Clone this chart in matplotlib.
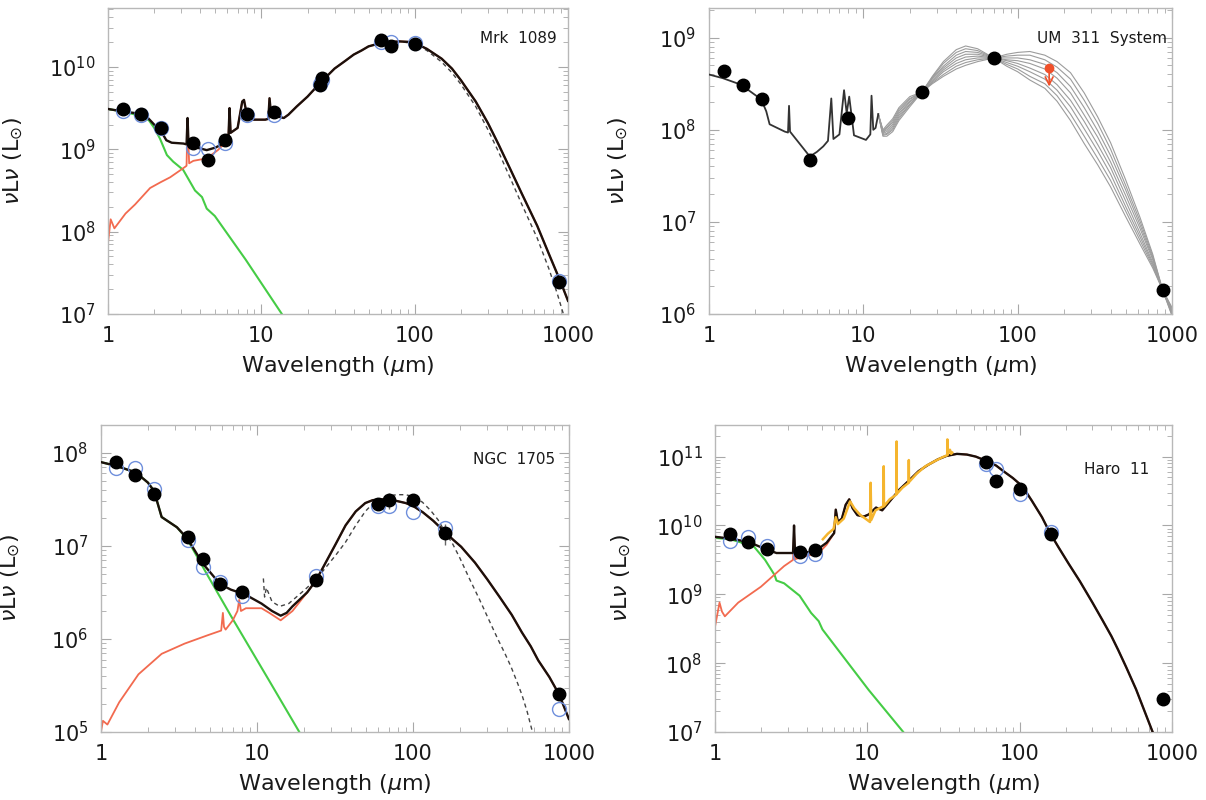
import numpy as np
import matplotlib.pyplot as plt
from matplotlib.ticker import LogLocator, NullFormatter

plt.rcParams['font.family'] = ['DejaVu Sans']
plt.rcParams['mathtext.fontset'] = 'dejavusans'

# ---------- DATA (model curves are log10 of nuLnu in Lsun) ----------

# Mrk 1089
mrk_phot_wl = [1.25, 1.65, 2.2, 3.6, 4.5, 5.8, 8.0, 12, 24, 25, 60, 70, 100, 870]
mrk_phot = [3.1e9, 2.7e9, 1.8e9, 1.2e9, 7.5e8, 1.3e9, 2.7e9, 2.8e9, 6.0e9, 7.4e9, 2.1e10, 1.8e10, 1.9e10, 2.45e7]
mrk_mod_phot = [2.9e9, 2.6e9, 1.8e9, 1.05e9, 1.0e9, 1.2e9, 2.6e9, 2.6e9, 6.2e9, 7.0e9, 2.0e10, 2.0e10, 1.95e10, 2.5e7]

mrk_tot_wl = [1.0, 1.25, 1.5, 1.76, 2.0, 2.2, 2.4, 2.6, 3.1, 3.25, 3.3, 3.35, 3.6, 4.0, 4.4, 5.0, 5.4,
              6.1, 6.2, 6.3, 7.0, 7.5, 7.7, 8.0, 8.8, 9.5, 10.6, 11.1, 11.3, 11.6, 12.7, 14.0, 15.0,
              17.0, 20.0, 24.0, 30.0, 35.0, 40.0, 45.0, 50.0, 60.0, 70.0, 80.0, 90.0, 100.0, 120.0,
              150.0, 175.0, 200.0, 250.0, 300.0, 350.0, 420.0, 500.0, 630.0, 750.0, 890.0, 1000.0]
mrk_tot_log = [9.49, 9.46, 9.44, 9.41, 9.30, 9.23, 9.11, 9.08, 9.07, 9.06, 9.38, 9.05, 9.03, 9.01, 8.99,
               9.02, 9.05, 9.15, 9.50, 9.20, 9.26, 9.58, 9.60, 9.44, 9.36, 9.36, 9.36, 9.37, 9.62, 9.40,
               9.40, 9.38, 9.42, 9.52, 9.64, 9.80, 9.98, 10.07, 10.15, 10.20, 10.25, 10.29, 10.305,
               10.31, 10.305, 10.29, 10.22, 10.10, 9.98, 9.84, 9.58, 9.32, 9.07, 8.76, 8.46, 8.07,
               7.73, 7.40, 7.16]
mrk_dust_wl = [1.0, 1.04, 1.1, 1.3, 1.5, 1.88, 2.2, 2.54, 3.09, 3.25, 3.3, 3.38, 3.6, 4.4, 5.2, 5.6, 6.0]
mrk_dust_log = [7.87, 8.15, 8.04, 8.22, 8.33, 8.53, 8.60, 8.66, 8.77, 8.80, 9.36, 8.83, 8.86, 8.89,
                8.99, 9.05, 9.12]
mrk_star_wl = [1.0, 1.3, 1.69, 1.85, 2.0, 2.18, 2.42, 2.66, 3.09, 3.69, 4.1, 4.4, 4.97, 7.9, 13.6, 14.5]
mrk_star_log = [9.49, 9.45, 9.40, 9.35, 9.26, 9.13, 8.93, 8.85, 8.75, 8.50, 8.42, 8.28, 8.19, 7.66,
                7.0, 6.9]
mrk_alt_wl = [60, 80, 100, 120, 150, 175, 200, 250, 300, 350, 420, 500, 630, 750, 850, 950]
mrk_alt_log = [10.29, 10.31, 10.28, 10.20, 10.06, 9.93, 9.79, 9.52, 9.24, 8.98, 8.65, 8.33, 7.92,
               7.55, 7.25, 6.95]

# UM 311 System
um_phot_wl = [1.25, 1.65, 2.2, 4.5, 8.0, 24, 70, 870]
um_phot = [4.3e8, 3.1e8, 2.17e8, 4.7e7, 1.34e8, 2.57e8, 6.0e8, 1.8e6]
um_lim_wl = 160
um_lim = 4.7e8
um_lim_tip = 2.75e8

um_line_wl = [1.0, 1.23, 1.61, 2.18, 2.35, 2.47, 3.1, 3.25, 3.3, 3.35, 4.5, 5.0, 5.5, 5.9, 6.2, 6.4,
              7.0, 7.5, 7.8, 8.1, 8.7, 10.4, 11.1, 11.3, 11.6, 12.0, 12.5]
um_line_log = [8.60, 8.56, 8.49, 8.33, 8.20, 8.06, 7.98, 7.97, 8.26, 7.98, 7.71, 7.76, 7.82, 7.88,
               8.34, 7.90, 7.95, 8.43, 8.18, 8.36, 7.94, 7.89, 7.95, 8.37, 8.00, 8.02, 8.17]

um_fam_wl = [12.5, 13.4, 14.2, 15.5, 17, 20, 24, 28, 33, 40, 46, 55, 70, 85, 100, 120, 150, 180, 220,
             270, 330, 400, 500, 620, 750, 870, 1000]
um_fam_log = [
    [8.17, 8.00, 8.05, 8.12, 8.24, 8.36, 8.41, 8.58, 8.74, 8.87, 8.91, 8.88, 8.78, 8.69, 8.63, 8.54,
     8.45, 8.31, 8.10, 7.85, 7.62, 7.38, 7.06, 6.76, 6.50, 6.26, 6.07],
    [8.17, 7.99, 8.03, 8.10, 8.22, 8.34, 8.41, 8.57, 8.72, 8.84, 8.88, 8.86, 8.78, 8.71, 8.66, 8.58,
     8.50, 8.37, 8.17, 7.93, 7.69, 7.45, 7.12, 6.80, 6.52, 6.26, 6.06],
    [8.17, 7.98, 8.02, 8.08, 8.20, 8.33, 8.41, 8.56, 8.69, 8.81, 8.85, 8.84, 8.78, 8.73, 8.69, 8.63,
     8.55, 8.43, 8.25, 8.01, 7.77, 7.52, 7.17, 6.84, 6.54, 6.26, 6.04],
    [8.17, 7.97, 8.00, 8.06, 8.18, 8.31, 8.41, 8.55, 8.67, 8.78, 8.82, 8.82, 8.78, 8.75, 8.72, 8.67,
     8.60, 8.49, 8.32, 8.09, 7.84, 7.59, 7.23, 6.88, 6.56, 6.26, 6.03],
    [8.17, 7.96, 7.98, 8.04, 8.16, 8.30, 8.41, 8.53, 8.65, 8.75, 8.79, 8.80, 8.78, 8.76, 8.75, 8.72,
     8.66, 8.56, 8.40, 8.16, 7.92, 7.65, 7.29, 6.93, 6.59, 6.26, 6.02],
    [8.17, 7.95, 7.96, 8.02, 8.14, 8.28, 8.41, 8.52, 8.63, 8.72, 8.76, 8.78, 8.78, 8.78, 8.78, 8.76,
     8.71, 8.62, 8.47, 8.24, 7.99, 7.72, 7.35, 6.97, 6.61, 6.26, 6.01],
    [8.17, 7.94, 7.95, 8.00, 8.12, 8.27, 8.41, 8.51, 8.60, 8.69, 8.73, 8.76, 8.78, 8.80, 8.81, 8.81,
     8.76, 8.68, 8.55, 8.32, 8.07, 7.79, 7.40, 7.01, 6.63, 6.26, 5.99],
    [8.17, 7.93, 7.93, 7.98, 8.10, 8.25, 8.41, 8.50, 8.58, 8.66, 8.70, 8.74, 8.78, 8.82, 8.84, 8.85,
     8.81, 8.74, 8.62, 8.40, 8.14, 7.86, 7.46, 7.05, 6.65, 6.26, 5.98],
]

# NGC 1705
ngc_phot_wl = [1.25, 1.65, 2.2, 3.6, 4.5, 5.8, 8.0, 24, 60, 70, 100, 160, 870]
ngc_phot = [8.0e7, 5.8e7, 3.6e7, 1.26e7, 7.2e6, 3.9e6, 3.2e6, 4.3e6, 2.8e7, 3.1e7, 3.1e7, 1.37e7, 2.55e5]
ngc_err = [0, 0, 0, 0, 0, 0, 0, 0, 0, 6e6, 0, 3.5e6, 0]
ngc_mod_phot = [6.9e7, 6.9e7, 4.1e7, 1.15e7, 6.0e6, 4.1e6, 2.9e6, 4.8e6, 2.7e7, 2.65e7, 2.3e7, 1.55e7, 1.75e5]

ngc_tot_wl = [1.0, 1.25, 1.67, 2.0, 2.19, 2.45, 3.07, 3.58, 4.5, 5.8, 6.8, 8.0, 9.0, 10.7, 12.5, 14.2,
              15.5, 16.9, 21, 23.7, 26, 28, 32, 37, 43, 49.5, 55, 60, 70, 80, 90, 100, 116, 135, 158,
              180, 204, 250, 300, 360, 430, 500, 570, 636, 750, 868, 1000]
ngc_tot_log = [7.90, 7.86, 7.79, 7.68, 7.59, 7.31, 7.20, 7.08, 6.81, 6.59, 6.53, 6.49, 6.45, 6.38, 6.30,
               6.25, 6.28, 6.35, 6.50, 6.62, 6.74, 6.84, 7.02, 7.22, 7.37, 7.46, 7.49, 7.50, 7.50, 7.48,
               7.46, 7.43, 7.36, 7.27, 7.16, 7.07, 6.99, 6.82, 6.64, 6.45, 6.26, 6.07, 5.92, 5.77, 5.59,
               5.40, 5.14]
ngc_dust_wl = [1.0, 1.03, 1.1, 1.31, 1.74, 2.45, 3.44, 4.84, 5.9, 6.05, 6.15, 6.3, 7.0, 7.5, 7.7, 7.9,
               8.5, 9.5, 10.7, 12.0, 14.2, 16.9]
ngc_dust_log = [5.0, 5.12, 5.08, 5.32, 5.62, 5.84, 5.95, 6.04, 6.09, 6.28, 6.13, 6.10, 6.20, 6.30, 6.42,
                6.30, 6.33, 6.33, 6.33, 6.28, 6.20, 6.30]
ngc_star_wl = [1.0, 1.25, 1.67, 2.0, 2.19, 2.45, 3.07, 3.58, 4.84, 6.8, 12.0, 18.7, 20.0]
ngc_star_log = [7.90, 7.86, 7.79, 7.68, 7.59, 7.31, 7.20, 7.07, 6.68, 6.25, 5.55, 5.0, 4.9]
ngc_alt_wl = [11.0, 11.2, 11.5, 12.5, 14.0, 16.0, 20, 24, 28, 32, 37, 43, 49.5, 55, 60, 70, 80, 90, 100,
              115, 130, 145, 158, 180, 200, 230, 268, 310, 350, 390, 426, 470, 500, 540, 580, 600]
ngc_alt_log = [6.65, 6.45, 6.55, 6.40, 6.35, 6.38, 6.52, 6.64, 6.78, 6.90, 7.04, 7.22, 7.37, 7.45, 7.50,
               7.54, 7.55, 7.55, 7.53, 7.47, 7.38, 7.28, 7.17, 7.02, 6.87, 6.65, 6.42, 6.19, 6.00, 5.84,
               5.70, 5.52, 5.40, 5.22, 5.02, 4.92]

# Haro 11
haro_phot_wl = [1.25, 1.65, 2.2, 3.6, 4.5, 60, 70, 100, 160, 870]
haro_phot = [7.6e9, 5.8e9, 4.6e9, 4.1e9, 4.4e9, 8.4e10, 4.4e10, 3.4e10, 7.6e9, 3.0e7]
haro_err = [0, 0, 0, 0, 0, 0, 7e9, 0, 0, 0]
haro_mod_wl = [1.25, 1.65, 2.2, 3.6, 4.5, 60, 70, 100, 160]
haro_mod_phot = [6.0e9, 6.8e9, 5.0e9, 3.6e9, 3.8e9, 7.7e10, 6.6e10, 2.9e10, 8.0e9]

haro_tot_wl = [1.0, 1.26, 1.66, 2.13, 2.53, 3.25, 3.3, 3.35, 4.5, 5.4, 6.05, 6.2, 6.4, 6.8, 7.2, 7.6,
               8.0, 8.6, 9.5, 10.2, 11.4, 12.5, 14, 16.2, 18.5, 21.7, 25, 29, 33, 38.7, 45, 51.5, 60,
               70, 78, 90, 104, 120, 140, 158, 180, 210, 248, 300, 350, 400, 443, 500, 580, 660, 745,
               850]
haro_tot_log = [9.835, 9.81, 9.76, 9.66, 9.60, 9.60, 10.0, 9.60, 9.62, 9.75, 9.89, 10.23, 10.05, 10.10,
                10.30, 10.38, 10.25, 10.15, 10.13, 10.16, 10.26, 10.22, 10.35, 10.52, 10.64, 10.79,
                10.88, 10.96, 11.01, 11.04, 11.03, 11.00, 10.94, 10.87, 10.79, 10.69, 10.57, 10.36,
                10.12, 9.89, 9.68, 9.44, 9.19, 8.88, 8.62, 8.39, 8.19, 7.94, 7.62, 7.30, 7.00, 6.68]
haro_dust_wl = [1.0, 1.07, 1.11, 1.16, 1.42, 2.0, 2.84, 3.25, 3.3, 3.35, 4.0, 4.79, 5.4]
haro_dust_log = [8.53, 8.88, 8.75, 8.68, 8.88, 9.11, 9.41, 9.50, 9.90, 9.51, 9.56, 9.60, 9.72]
haro_star_wl = [1.0, 1.26, 1.66, 1.79, 2.13, 2.46, 2.53, 2.84, 3.59, 4.27, 4.79, 5.07, 10.2, 17.2, 18.5]
haro_star_log = [9.82, 9.80, 9.72, 9.70, 9.50, 9.28, 9.20, 9.16, 8.98, 8.73, 8.61, 8.49, 7.61, 7.0, 6.9]
haro_irs_wl = [5.1, 5.5, 6.0, 6.2, 6.4, 7.0, 7.7, 8.2, 9.0, 9.7, 10.4, 10.5, 10.6, 11.3, 12.0, 12.75,
               12.8, 12.85, 14.0, 15.5, 15.55, 15.6, 17.0, 18.65, 18.7, 18.75, 21.0, 24.0, 28.0, 31.0,
               33.4, 33.5, 33.6, 34.8, 35.5, 36.0]
haro_irs_log = [9.80, 9.88, 9.95, 10.12, 10.02, 10.10, 10.35, 10.25, 10.15, 10.10, 10.05, 10.62, 10.08,
                10.22, 10.25, 10.28, 10.86, 10.28, 10.38, 10.45, 11.22, 10.46, 10.55, 10.62, 10.95,
                10.63, 10.75, 10.86, 10.94, 10.99, 11.02, 11.25, 11.03, 11.10, 11.04, 11.06]

# ---------- STYLE ----------

C_TOT = '#1c100b'
C_DUST = '#f26a4f'
C_STAR = '#45cc45'
C_BLUE = '#6f8fdc'
C_IRS = '#f5b52e'
C_FAM = '#9c9c9c'


def lin(vals):
    return [10 ** v for v in vals]


def tail(wl, lg, start):
    # the dust curve merges with the total beyond `start`
    return [w for w in wl if w >= start], [v for w, v in zip(wl, lg) if w >= start]


def style_axes(ax, ylim, ypow, name, name_xy, ylab_x):
    ax.set_xscale('log')
    ax.set_yscale('log')
    ax.set_xlim(1, 1000)
    ax.set_ylim(*ylim)
    for s in ax.spines.values():
        s.set_color('#b8b8b8')
        s.set_linewidth(1.0)
    ax.tick_params(which='both', direction='in', top=True, right=True,
                   color='#a8a8a8', labelsize=15, labelcolor='#1a1a1a')
    ax.tick_params(which='major', length=7, width=0.8, pad=9)
    ax.tick_params(which='minor', length=3.5, width=0.6)
    ax.set_xticks([1, 10, 100, 1000])
    ax.set_xticklabels(['1', '10', '100', '1000'])
    ax.set_yticks([10.0 ** p for p in ypow])
    ax.set_yticklabels([r'$10^{%d}$' % p for p in ypow])
    ax.xaxis.set_minor_locator(LogLocator(base=10, subs=np.arange(2, 10)))
    ax.yaxis.set_minor_locator(LogLocator(base=10, subs=np.arange(2, 10), numticks=20))
    ax.xaxis.set_minor_formatter(NullFormatter())
    ax.yaxis.set_minor_formatter(NullFormatter())
    ax.set_xlabel(r'Wavelength ($\mu$m)', fontsize=16, color='#1a1a1a')
    ax.xaxis.set_label_coords(0.5, -0.13)
    ax.set_ylabel(r'$\nu$L$\nu$ (L$_{\odot}$)', fontsize=16, color='#1a1a1a')
    ax.yaxis.set_label_coords(ylab_x, 0.5)
    ax.text(name_xy[0], name_xy[1], name, transform=ax.transAxes, ha='right', va='center',
            fontsize=11, color='#1a1a1a')


def draw_phot(ax, wl, vals, err=None):
    if err is not None:
        ax.errorbar(wl, vals, yerr=err, fmt='none', ecolor='#666666', elinewidth=1, zorder=4)
    ax.plot(wl, vals, 'o', color='black', ms=9, zorder=5)


def draw_mod_phot(ax, wl, vals):
    ax.plot(wl, vals, 'o', mfc='none', mec=C_BLUE, mew=1.0, ms=10, zorder=4)


fig = plt.figure(figsize=(12.06, 8), dpi=100)
ax1 = fig.add_axes([0.0896, 0.6075, 0.3814, 0.3825])
ax2 = fig.add_axes([0.5879, 0.6075, 0.3839, 0.3825])
ax3 = fig.add_axes([0.0837, 0.085, 0.388, 0.384])
ax4 = fig.add_axes([0.5929, 0.085, 0.379, 0.384])

# ---------- Mrk 1089 ----------
tw, tl = tail(mrk_tot_wl, mrk_tot_log, 6.1)
ax1.plot(mrk_star_wl, lin(mrk_star_log), color=C_STAR, lw=1.5, zorder=2)
ax1.plot(mrk_dust_wl + tw, lin(mrk_dust_log + tl), color=C_DUST, lw=1.3, zorder=2)
ax1.plot(mrk_alt_wl, lin(mrk_alt_log), color='#444444', lw=1.0, ls=(0, (3, 2.5)), zorder=2)
ax1.plot(mrk_tot_wl, lin(mrk_tot_log), color=C_TOT, lw=1.7, zorder=3)
draw_mod_phot(ax1, mrk_phot_wl, mrk_mod_phot)
draw_phot(ax1, mrk_phot_wl, mrk_phot)
style_axes(ax1, (1e7, 5.2e10), [7, 8, 9, 10], 'Mrk  1089', (0.975, 0.9), -0.18)

# ---------- UM 311 ----------
for curve in um_fam_log:
    ax2.plot(um_fam_wl, lin(curve), color=C_FAM, lw=0.8, zorder=2)
ax2.plot(um_line_wl, lin(um_line_log), color='#333333', lw=1.3, zorder=3)
draw_phot(ax2, um_phot_wl, um_phot)
ax2.plot([um_lim_wl], [um_lim], 'o', color='#f0502a', ms=6, zorder=5)
ax2.annotate('', xy=(um_lim_wl, um_lim_tip), xytext=(um_lim_wl, um_lim),
             arrowprops=dict(arrowstyle='->', color='#f0502a', lw=1.2, mutation_scale=14), zorder=5)
style_axes(ax2, (1e6, 2.1e9), [6, 7, 8, 9], 'UM  311  System', (0.99, 0.9), -0.17)

# ---------- NGC 1705 ----------
tw, tl = tail(ngc_tot_wl, ngc_tot_log, 21)
ax3.plot(ngc_star_wl, lin(ngc_star_log), color=C_STAR, lw=1.5, zorder=2)
ax3.plot(ngc_dust_wl + tw, lin(ngc_dust_log + tl), color=C_DUST, lw=1.3, zorder=2)
ax3.plot(ngc_alt_wl, lin(ngc_alt_log), color='#444444', lw=1.0, ls=(0, (3, 2.5)), zorder=2)
ax3.plot(ngc_tot_wl, lin(ngc_tot_log), color=C_TOT, lw=1.7, zorder=3)
draw_mod_phot(ax3, ngc_phot_wl, ngc_mod_phot)
draw_phot(ax3, ngc_phot_wl, ngc_phot, ngc_err)
style_axes(ax3, (1e5, 2e8), [5, 6, 7, 8], 'NGC  1705', (0.97, 0.886), -0.169)

# ---------- Haro 11 ----------
tw, tl = tail(haro_tot_wl, haro_tot_log, 6.05)
ax4.plot(haro_star_wl, lin(haro_star_log), color=C_STAR, lw=1.5, zorder=2)
ax4.plot(haro_dust_wl + tw, lin(haro_dust_log + tl), color=C_DUST, lw=1.3, zorder=2)
ax4.plot(haro_tot_wl, lin(haro_tot_log), color=C_TOT, lw=1.7, zorder=3)
ax4.plot(haro_irs_wl, lin(haro_irs_log), color=C_IRS, lw=1.8, zorder=3.5)
draw_mod_phot(ax4, haro_mod_wl, haro_mod_phot)
draw_phot(ax4, haro_phot_wl, haro_phot, haro_err)
style_axes(ax4, (1e7, 2.9e11), [7, 8, 9, 10, 11], 'Haro  11', (0.95, 0.853), -0.18)

fig.savefig('out.png', dpi=100)
